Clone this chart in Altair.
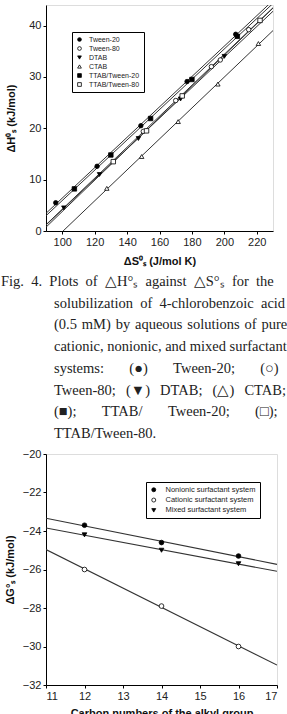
import altair as alt
import pandas as pd

# ---------------- Chart 1 data (ΔH vs ΔS) ----------------
series_names = ["Tween-20", "Tween-80", "DTAB", "CTAB", "TTAB/Tween-20", "TTAB/Tween-80"]
series_shapes = ["circle", "circle", "triangle-down", "triangle-up", "square", "square"]
series_fills = ["black", "white", "black", "white", "black", "white"]

tween20_s = [96, 121.5, 148.5, 177, 207]
tween20_h = [5.5, 12.6, 20.5, 29.1, 38.3]
tween80_s = [150, 170, 192, 197.5, 215]
tween80_h = [19.4, 25.4, 32.0, 33.3, 39.2]
dtab_s = [101, 123, 147, 173, 200]
dtab_h = [4.5, 11.0, 18.0, 25.7, 34.0]
ctab_s = [127.5, 149, 171.5, 196, 221]
ctab_h = [8.3, 14.5, 21.3, 28.6, 36.5]
ttab20_s = [107.5, 130, 154.5, 180, 208]
ttab20_h = [8.2, 14.8, 21.9, 29.5, 37.9]
ttab80_s = [131.5, 152, 174, 222]
ttab80_h = [13.5, 19.5, 26.3, 41.0]

# ---------------- Chart 2 data (ΔG vs carbon number) ----------------
system_names = ["Nonionic surfactant system", "Cationic surfactant system", "Mixed surfactant system"]
system_shapes = ["circle", "circle", "triangle-down"]
system_fills = ["black", "white", "black"]
carbon = [12, 14, 16]
nonionic_g = [-23.7, -24.6, -25.3]
cationic_g = [-26.0, -27.9, -30.0]
mixed_g = [-24.2, -25.0, -25.7]

# ---------------- Caption text (words per line + justification gaps) ----------------
NB, TH, SX, HR = "\u00a0", "\u2009", "\u2006", "\u200a"
caption_words = [
    ["Fig.", "4.", "Plots", "of", "△H°ₛ", "against", "△S°ₛ", "for", "the"],
    ["solubilization", "of", "4-chlorobenzoic", "acid"],
    ["(0.5", "mM)", "by", "aqueous", "solutions", "of", "pure"],
    ["cationic,", "nonionic,", "and", "mixed", "surfactant"],
    ["systems:", "(●)", "Tween-20;", "(○)"],
    ["Tween-80;", "(▼)", "DTAB;", "(△)", "CTAB;"],
    ["(■);", "TTAB/", "Tween-20;", "(□);"],
    ["TTAB/Tween-80."],
]
caption_gaps = [NB * 2, NB * 2, NB + HR, NB, NB * 7, NB * 2 + TH, NB * 7, NB]
caption_lines = [g.join(w) for w, g in zip(caption_words, caption_gaps)]

# ---------------- Build tables ----------------
rows = []
for name, xs, ys in [
    ("Tween-20", tween20_s, tween20_h),
    ("Tween-80", tween80_s, tween80_h),
    ("DTAB", dtab_s, dtab_h),
    ("CTAB", ctab_s, ctab_h),
    ("TTAB/Tween-20", ttab20_s, ttab20_h),
    ("TTAB/Tween-80", ttab80_s, ttab80_h),
]:
    for a, b in zip(xs, ys):
        rows.append({"series": name, "s": a, "h": b})
df1 = pd.DataFrame(rows)

rows2 = []
for name, ys in [
    ("Nonionic surfactant system", nonionic_g),
    ("Cationic surfactant system", cationic_g),
    ("Mixed surfactant system", mixed_g),
]:
    for a, b in zip(carbon, ys):
        rows2.append({"system": name, "c": a, "g": b})
df2 = pd.DataFrame(rows2)

cap_first_df = pd.DataFrame({"line": [0], "text": [caption_lines[0]]})
cap_rest_df = pd.DataFrame({"line": list(range(1, len(caption_lines))), "text": caption_lines[1:]})

FONT = "Liberation Sans"


def axis_kw(title_pad):
    return dict(
        labelFont=FONT, labelFontSize=11, labelColor="#222",
        titleFont=FONT, titleFontSize=11, titleFontWeight="bold", titleColor="#111",
        tickSize=3, tickColor="black", domainColor="black", labelPadding=2,
        grid=False, titlePadding=title_pad,
    )


# ---------------- Chart 1 ----------------
x1 = alt.X("s:Q", scale=alt.Scale(domain=[90, 230], nice=False),
           axis=alt.Axis(values=[100, 120, 140, 160, 180, 200, 220],
                         title="ΔS⁰ₛ (J/mol K)", **axis_kw(8)))
y1 = alt.Y("h:Q", scale=alt.Scale(domain=[0, 44], nice=False),
           axis=alt.Axis(values=[0, 10, 20, 30, 40],
                         title="ΔH⁰ₛ (kJ/mol)", **axis_kw(12)))

lines1 = alt.Chart(df1).transform_regression(
    "s", "h", groupby=["series"], extent=[90, 230]
).mark_line(color="#333", strokeWidth=1, clip=True).encode(
    x=x1, y=y1, detail="series:N"
)

legend1 = alt.Legend(
    title=None, orient="none", legendX=26, legendY=27,
    strokeColor="black", fillColor="white", padding=4,
    labelFont=FONT, labelFontSize=7, labelColor="#222", symbolSize=14,
    symbolStrokeWidth=0.8, rowPadding=1,
    labelOffset=6, offset=0,
)
points1 = alt.Chart(df1).mark_point(
    filled=False, strokeWidth=0.8, size=20, opacity=1, fillOpacity=1
).encode(
    x=x1, y=y1,
    shape=alt.Shape("series:N", scale=alt.Scale(domain=series_names, range=series_shapes), legend=legend1),
    fill=alt.Fill("series:N", scale=alt.Scale(domain=series_names, range=series_fills), legend=legend1),
    stroke=alt.Stroke("series:N", scale=alt.Scale(domain=series_names, range=["black"] * 6), legend=legend1),
)
chart1 = alt.layer(lines1, points1).properties(width=227, height=226)

# ---------------- Caption ----------------
ycap = alt.Y("line:Q", scale=alt.Scale(domain=[0, 7], range=[11, 163]), axis=None)
cap1 = alt.Chart(cap_first_df).mark_text(
    align="left", baseline="middle", font="Liberation Serif", fontSize=14.5, color="#222"
).encode(x=alt.value(-45), y=ycap, text="text:N")
cap2 = alt.Chart(cap_rest_df).mark_text(
    align="left", baseline="middle", font="Liberation Serif", fontSize=14.5, color="#222"
).encode(x=alt.value(8), y=ycap, text="text:N")
caption = alt.layer(cap1, cap2).properties(
    width=227, height=143, view=alt.ViewBackground(strokeOpacity=0)
)

# ---------------- Chart 2 ----------------
x2 = alt.X("c:Q", scale=alt.Scale(domain=[11, 17], nice=False),
           axis=alt.Axis(values=[11, 12, 13, 14, 15, 16, 17],
                         title="Carbon numbers of the alkyl group", **axis_kw(6)))
y2 = alt.Y("g:Q", scale=alt.Scale(domain=[-32, -20], nice=False),
           axis=alt.Axis(values=[-32, -30, -28, -26, -24, -22, -20],
                         title="ΔG°ₛ (kJ/mol)", **axis_kw(7)))
lines2 = alt.Chart(df2).transform_regression(
    "c", "g", groupby=["system"], extent=[11, 17]
).mark_line(color="#333", strokeWidth=1.1, clip=True).encode(
    x=x2, y=y2, detail="system:N"
)
legend2 = alt.Legend(
    title=None, orient="none", legendX=100, legendY=28,
    strokeColor="black", fillColor="white", padding=4,
    labelFont=FONT, labelFontSize=7.5, labelColor="#222", symbolSize=16,
    symbolStrokeWidth=0.8, rowPadding=1.3,
    labelOffset=8, offset=0,
)
points2 = alt.Chart(df2).mark_point(
    filled=False, strokeWidth=0.8, size=22, opacity=1, fillOpacity=1
).encode(
    x=x2, y=y2,
    shape=alt.Shape("system:N", scale=alt.Scale(domain=system_names, range=system_shapes), legend=legend2),
    fill=alt.Fill("system:N", scale=alt.Scale(domain=system_names, range=system_fills), legend=legend2),
    stroke=alt.Stroke("system:N", scale=alt.Scale(domain=system_names, range=["black"] * 3), legend=legend2),
)
chart2 = alt.layer(lines2, points2).properties(width=231, height=231)

chart = alt.vconcat(chart1, caption, chart2, spacing=40, bounds="flush").resolve_scale(
    x="independent", y="independent", shape="independent", fill="independent", stroke="independent"
).resolve_legend(shape="independent", fill="independent", stroke="independent").properties(
    autosize=alt.AutoSizeParams(type="none"),
    padding={"left": 46, "top": 5, "right": 241, "bottom": 709},
).configure_view(stroke="black", strokeWidth=1).configure(background="white")

chart.save("out.html", embed_options={"renderer": "svg", "actions": False})
